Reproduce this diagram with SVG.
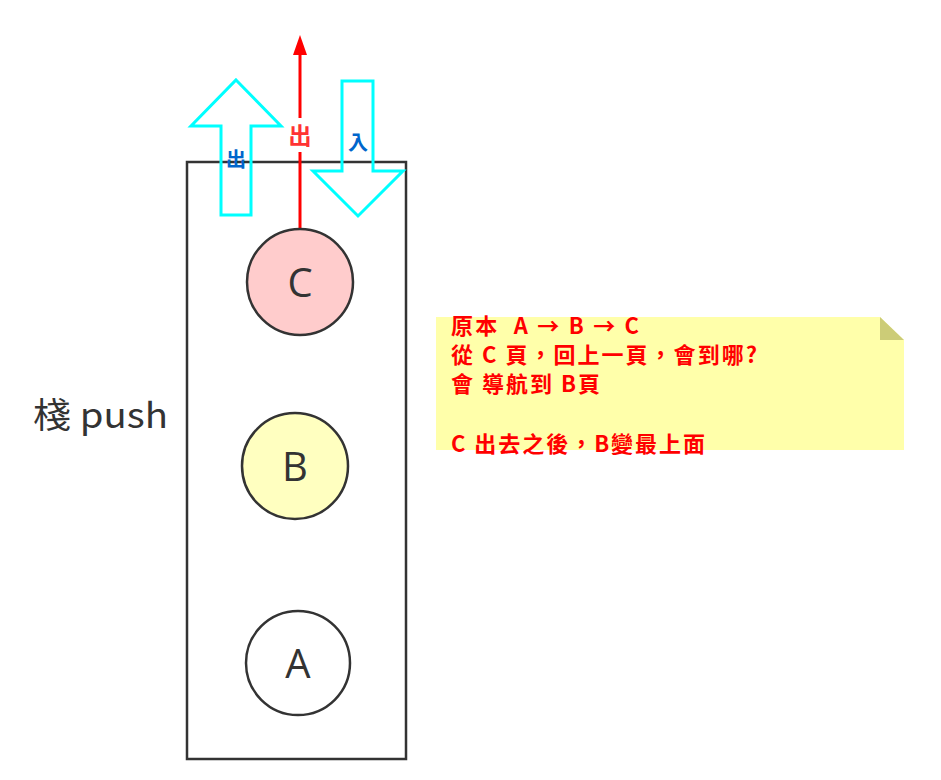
<svg xmlns="http://www.w3.org/2000/svg" width="941" height="780" viewBox="0 0 941 780">
<defs>
<style>
.node{stroke:#333;stroke-width:2.5}
.lbl{font-family:"Open Sans","Noto Sans",sans-serif;font-size:40px;fill:#333;text-anchor:middle}
.big{fill:none;stroke:#00ffff;stroke-width:3}
.note{font-family:"Noto Sans CJK TC","Noto Sans",sans-serif;font-size:22px;font-weight:bold;fill:#ff0000}
</style>
<marker id="ah" markerWidth="20" markerHeight="14" refX="0" refY="7" orient="auto" markerUnits="userSpaceOnUse" viewBox="0 0 20 14">
<path d="M0,0 L20,7 L0,14 Z" fill="#ff0000"/>
</marker>
</defs>
<rect width="941" height="780" fill="#fff"/>
<g id="stack">
<rect x="187" y="162" width="219" height="597" fill="#fff" stroke="#333" stroke-width="2.5"/>
</g>
<g id="stack-label">
<text x="33" y="428" font-family="'Noto Sans CJK TC','Open Sans',sans-serif" font-size="35" fill="#333" textLength="135" lengthAdjust="spacingAndGlyphs">棧 push</text>
</g>
<g id="arrow-out">
<path class="big" d="M236,80 L281,126 L251,126 L251,215 L221,215 L221,126 L191,126 Z" fill="#fff"/>
<text x="236" y="167" font-family="'Noto Sans CJK TC',sans-serif" font-size="20" font-weight="bold" fill="#0066cc" text-anchor="middle">出</text>
</g>
<g id="arrow-in">
<path class="big" d="M342,81 L373,81 L373,171 L403,171 L358,216 L313,171 L342,171 Z" fill="#fff"/>
<text x="358" y="150" font-family="'Noto Sans CJK TC',sans-serif" font-size="20" font-weight="bold" fill="#0066cc" text-anchor="middle">入</text>
</g>
<g id="connectors">
<line x1="300" y1="228" x2="300" y2="55" stroke="#ff0000" stroke-width="3" marker-end="url(#ah)"/>
<rect x="288" y="118" width="24" height="34" fill="#fff"/>
<text x="300" y="144" font-family="'Noto Sans CJK TC',sans-serif" font-size="23" font-weight="bold" fill="#ff3333" text-anchor="middle">出</text>
</g>
<g id="node-c">
<circle class="node" cx="300" cy="282" r="53" fill="#ffcccc"/>
<text class="lbl" x="300" y="297">C</text>
</g>
<g id="node-b">
<circle class="node" cx="295" cy="466" r="53" fill="#ffffc0"/>
<text class="lbl" x="295" y="481">B</text>
</g>
<g id="node-a">
<circle class="node" cx="298" cy="663" r="52" fill="#fff"/>
<text class="lbl" x="298" y="678">A</text>
</g>
<g id="note">
<path d="M436,317 L880,317 L904,340 L904,450 L436,450 Z" fill="#ffffaa"/>
<path d="M880,317 L904,340 L880,340 Z" fill="#cccc77"/>
<text class="note" x="451" y="334" xml:space="preserve" textLength="188" lengthAdjust="spacing">原本  A → B → C</text>
<text class="note" x="451" y="363" textLength="306" lengthAdjust="spacing">從 C 頁，回上一頁，會到哪?</text>
<text class="note" x="451" y="392" textLength="149" lengthAdjust="spacing">會 導航到 B頁</text>
<text class="note" x="451" y="452" textLength="254" lengthAdjust="spacing">C 出去之後，B變最上面</text>
</g>
</svg>
